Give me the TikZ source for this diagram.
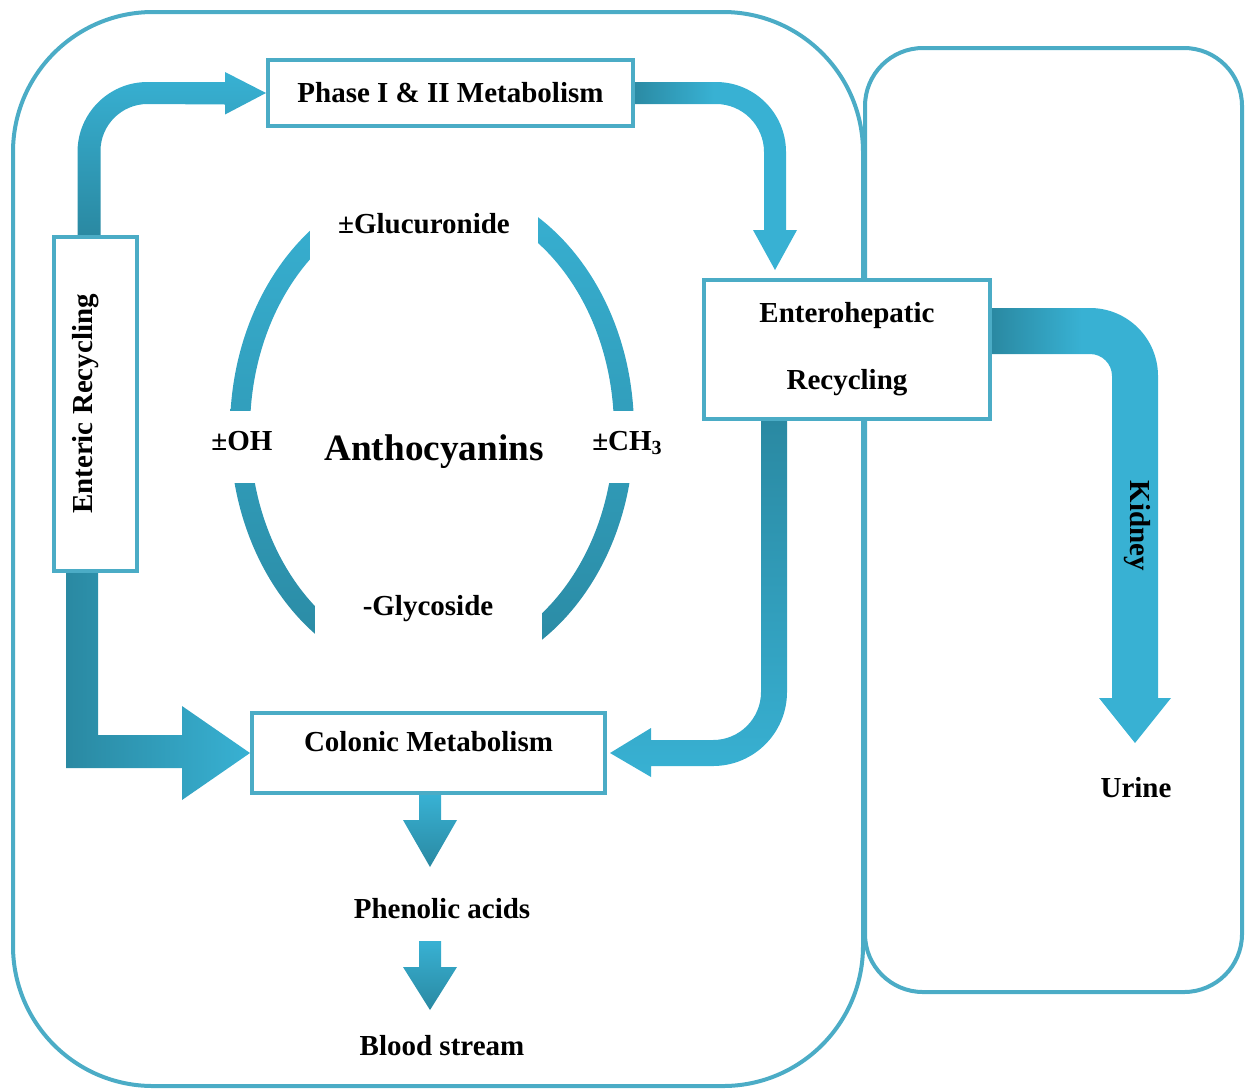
\documentclass[tikz,border=0pt]{standalone}
\usepackage{fontspec}
\setmainfont{Liberation Serif}
\usetikzlibrary{backgrounds}

\definecolor{frameblue}{HTML}{4BACC6}
\definecolor{flowlight}{HTML}{38B1D3}
\definecolor{flowdark}{HTML}{2A89A2}

\newcommand{\chemsub}[1]{\raisebox{-0.35ex}{\fontsize{10}{10}\selectfont #1}}

\tikzset{
  frame/.style={draw=frameblue, line width=2pt},
  box/.style={draw=frameblue, line width=2pt, fill=white, inner sep=0pt,
    font=\fontsize{14.5}{17}\selectfont\bfseries},
  lbl/.style={inner sep=0pt, font=\fontsize{14.5}{17}\selectfont\bfseries},
}

\begin{document}
\begin{tikzpicture}[x=0.5pt,y=0.5pt]
  \useasboundingbox (0,0) rectangle (1245,-1088);

  % Boxes
  \node[box, minimum width=182.5pt, minimum height=33pt] (phase) at (450.5,-93) {Phase I \& II Metabolism};
  \node[box, rotate=90, minimum width=167pt, minimum height=41.5pt] (enteric) at (95.5,-404)
    {\raisebox{5pt}[\height][\depth]{Enteric Recycling}};
  \node[box, align=center, minimum width=143pt, minimum height=69.5pt] (entero) at (847,-349.5)
    {Enterohepatic\\[16.5pt]Recycling};
  \node[box, minimum width=176.5pt, minimum height=40pt] (colonic) at (428.5,-753)
    {\raisebox{5.5pt}[\height][\depth]{Colonic Metabolism}};

  % Labels
  \node[lbl, anchor=base] (gluc) at (424,-233) {±Glucuronide};
  \node[lbl, anchor=base] (oh) at (242,-450) {±OH};
  \node[lbl, anchor=base, font=\fontsize{18.6}{22}\selectfont\bfseries] (antho) at (434,-460) {Anthocyanins};
  \node[lbl, anchor=base] (ch3) at (627,-450) {±CH\chemsub{3}};
  \node[lbl, anchor=base] (glyc) at (428,-615) {-Glycoside};
  \node[lbl, anchor=base] (phen) at (442,-918) {Phenolic acids};
  \node[lbl, anchor=base] (blood) at (442,-1055) {Blood stream};
  \node[lbl, anchor=base] (urine) at (1136,-797) {Urine};
  \node[lbl, rotate=-90] (kidney) at (1137,-526) {Kidney};

  \coordinate (kidtip) at (1135,-743);
  \coordinate (bloodtop) at (419,-941);

  \begin{scope}[on background layer]
    % Outer frames
    \draw[frame, rounded corners=70pt] (13,-12) rectangle (863,-1086);
    \draw[frame, rounded corners=29pt] (865,-48) rectangle (1242,-992);

    % Ring round the anthocyanins
    \shade[top color=flowlight, bottom color=flowdark, even odd rule]
      (432,-430) ellipse [x radius=202, y radius=250]
      (432,-430) ellipse [x radius=182, y radius=230];
    \fill[white] (310,-172) rectangle (538,-264);
    \fill[white] (200,-411) rectangle (290,-483);
    \fill[white] (590,-411) rectangle (668,-483);
    \fill[white] (315,-575) rectangle (542,-692);

    % Enteric -> Phase
    \shade[top color=flowlight, bottom color=flowdark]
      ([shift={(-18,0)}]enteric.east) -- (77.5,-152)
      arc[start angle=180, end angle=90, radius=70]
      -- ([shift={(-41,11)}]phase.west) -- ++(0,10) -- (phase.west) -- ++(-41,-21.5) -- ++(0,10)
      -- (147.5,-104) arc[start angle=90, end angle=180, radius=47]
      -- ([shift={(5,0)}]enteric.east) -- cycle;

    % Phase -> Enterohepatic
    \shade[left color=flowdark, right color=flowlight, middle color=flowlight]
      ([shift={(-4,11)}]phase.east) -- (716,-82)
      arc[start angle=90, end angle=0, radius=70]
      -- (786,-230) -- ++(11,0) -- ([shift={(-72,8)}]entero.north) -- (753,-230) -- ++(11,0)
      -- (764,-152) arc[start angle=0, end angle=90, radius=48]
      -- ([shift={(-4,-11)}]phase.east) -- cycle;

    % Enterohepatic -> Colonic
    \shade[top color=flowdark, bottom color=flowlight]
      ([shift={(-86,0)}]entero.south) -- ([shift={(-60,0)}]entero.south) -- (787,-692)
      arc[start angle=0, end angle=-90, radius=74]
      -- (651,-766) -- ++(0,-11) -- ([shift={(3,0)}]colonic.east) -- (651,-728) -- ++(0,-12)
      -- (713,-740) arc[start angle=-90, end angle=0, radius=48]
      -- cycle;

    % Enteric -> Colonic
    \shade[left color=flowdark, right color=flowlight]
      ([shift={(-29.5,0)}]enteric.west) -- ([shift={(2.5,0)}]enteric.west) -- (98,-735)
      -- (182,-735) -- (182,-706) -- (colonic.west) -- (182,-800) -- (182,-768) -- (66,-768) -- cycle;

    % Enterohepatic -> Kidney -> Urine
    \shade[left color=flowdark, right color=flowlight, middle color=flowlight]
      ([shift={(0,41.5)}]entero.east) -- (1090,-308)
      arc[start angle=90, end angle=0, radius=68]
      -- (1158,-698) -- ++(13,0) -- (kidtip) -- (1099,-698) -- ++(13,0)
      -- (1112,-376) arc[start angle=0, end angle=90, radius=22]
      -- ([shift={(0,-4.5)}]entero.east) -- cycle;

    % Colonic -> Phenolic acids -> Blood stream
    \shade[top color=flowlight, bottom color=flowdark]
      ([shift={(-9.5,0)}]colonic.south) -- ++(0,-25) -- ++(-16,0) -- ++(27,-47)
      -- ++(27,47) -- ++(-16,0) -- ++(0,25) -- cycle;
    \shade[top color=flowlight, bottom color=flowdark]
      (bloodtop) -- ++(0,-26) -- ++(-16,0) -- ++(27,-43)
      -- ++(27,43) -- ++(-16,0) -- ++(0,26) -- cycle;
  \end{scope}
\end{tikzpicture}
\end{document}
